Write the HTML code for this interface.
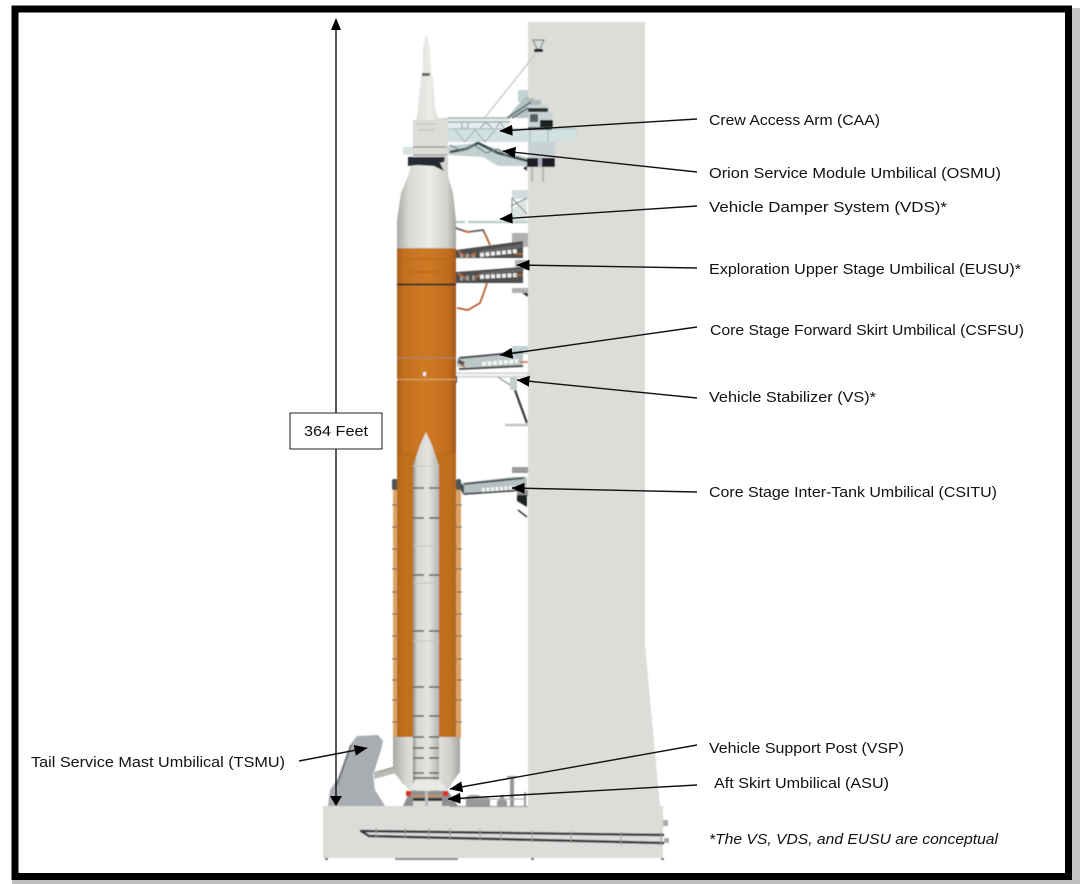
<!DOCTYPE html>
<html><head><meta charset="utf-8"><style>
html,body{margin:0;padding:0;background:#fff;width:1080px;height:884px;overflow:hidden}
svg{display:block}
text{font-family:"Liberation Sans",sans-serif;font-size:15px;fill:#111}
</style></head><body>
<svg width="1080" height="884" viewBox="0 0 1080 884" xmlns="http://www.w3.org/2000/svg">
<defs>
<linearGradient id="or" x1="0" x2="1" y1="0" y2="0"><stop offset="0" stop-color="#a85f1c"/><stop offset=".12" stop-color="#c4701f"/><stop offset=".5" stop-color="#cf7a22"/><stop offset=".88" stop-color="#c06c1f"/><stop offset="1" stop-color="#a05a1c"/></linearGradient>
<linearGradient id="wh" x1="0" x2="1" y1="0" y2="0"><stop offset="0" stop-color="#a9a9a5"/><stop offset=".2" stop-color="#d8d8d4"/><stop offset=".55" stop-color="#ebebe8"/><stop offset=".85" stop-color="#d0d0cc"/><stop offset="1" stop-color="#a5a5a1"/></linearGradient>
<linearGradient id="bs" x1="0" x2="1" y1="0" y2="0"><stop offset="0" stop-color="#8f8f8b"/><stop offset=".15" stop-color="#d5d5d1"/><stop offset=".6" stop-color="#e4e4e0"/><stop offset="1" stop-color="#b5b5b1"/></linearGradient>
<filter id="b" x="-5%" y="-5%" width="110%" height="110%"><feGaussianBlur stdDeviation="0.6"/></filter>
<marker id="ah" viewBox="0 0 13 11" refX="12.500" refY="5.500" markerWidth="13" markerHeight="11" markerUnits="userSpaceOnUse" orient="auto"><path d="M13 5.500L0 0V11Z" fill="#000"/></marker>
</defs>
<rect width="1080" height="884" fill="#fff"/>
<rect x="1072" y="8" width="8" height="876" fill="#c4c4c4"/>
<rect x="12" y="880" width="1068" height="4" fill="#bdbdbd"/>
<g filter="url(#b)">
<!-- tower -->
<path d="M528 22H645V645L660 806H663V858H323V806H528Z" fill="#dcdcd8"/>
<!-- base details -->
<path d="M360 831L664 835" stroke="#33383a" stroke-width="2.400" fill="none"/>
<path d="M361 831L369 836L664 843" stroke="#33383a" stroke-width="2.400" fill="none"/>
<path d="M376 828v10M405 828v11M429 828v12M450 828v12M480 829v12M501 830v11M532 830v12M571 831v12M621 832v13M661 832v14" stroke="#9a9a96" stroke-width="1"/>
<rect x="395" y="858" width="63" height="2" fill="#8c8c8a"/>
<path d="M325 859h3M531 859h3M661 859h3" stroke="#777" stroke-width="2"/>
<path d="M663 820h5v6h-5zM664 838h5v5h-5z" fill="#aaa"/>
<!-- top antenna -->
<path d="M533 40h11l-4 9h-3z" fill="none" stroke="#7a8a88" stroke-width="1.200"/>
<rect x="534" y="49" width="9" height="3" fill="#222"/>
<path d="M537 52L475 130" stroke="#bfc5c4" stroke-width="1.200"/>
<!-- CAA structure -->
<path d="M518 90h10v12h-10z" fill="#c3d2d2"/>
<path d="M507 118l10-12 11-12v24z" fill="#b4c3c3"/>
<path d="M528 98h6v8h-6zM533 100h8v8h-8z" fill="#aebaba"/>
<path d="M528 105h21v8h-21z" fill="#ccd5d5"/>
<path d="M528 108h20v4h-20z" fill="#2c3032"/>
<path d="M507 118l24-16M512 118l16-10" stroke="#55686a" stroke-width="1.500"/>
<path d="M528 113h24v14h-24z" fill="#c8d3d3"/>
<path d="M540 120h13v7h-13z" fill="#1e2224"/>
<path d="M530 114h8v8h-8z" fill="#58615f"/>
<path d="M448 118h62v12h-62z" fill="#e4ecec"/>
<path d="M448 118h62M448 122h62" stroke="#93a6a6" stroke-width="1.200"/>
<path d="M462 128h6v-6h-6zM480 128l6-6 6 6M496 128l4-6 4 6" stroke="#8da0a0" fill="none"/>
<path d="M448 128h129v14h-129z" fill="#d2e0e0"/>
<path d="M448 129h129" stroke="#a6b8b8" stroke-width="1"/>
<path d="M455 130l10 12 10-12 10 12 10-12M530 128v14M548 128v14" stroke="#9fb2b2" stroke-width="1" fill="none"/>
<path d="M528 127h24v3h-24z" fill="#4a5a5c"/>
<!-- OSMU -->
<path d="M403 147h44v8h-44z" fill="#d8e2e2"/>
<path d="M447 146l30-3 15 4 20 6 16 5v8h-30l-15-9-36-2z" fill="#c2d0d0"/>
<path d="M450 152l16-3 12-6 20 10 30 8" stroke="#39494b" stroke-width="2.600" fill="none"/>
<path d="M450 145l12 6 12-6 12 8 12-4 10 8" stroke="#6f8284" stroke-width="1.200" fill="none"/>
<path d="M528 142h27v16h-27z" fill="#c7d2d2"/>
<rect x="527" y="158" width="28" height="9" fill="#1a1f22"/>
<rect x="538" y="158" width="4" height="9" fill="#aab"/>
<path d="M532 167v15M543 167v15" stroke="#b3b8b6" stroke-width="2"/>
<path d="M523 168l4 3v-5z" fill="#333"/>
<!-- VDS -->
<path d="M447 222h18M468 222h60" stroke="#bdcdcd" stroke-width="2.400"/>
<path d="M447 221l6 3" stroke="#333" stroke-width="3"/>
<path d="M512 190h16v9h-16z" fill="#d2dcdc"/>
<path d="M512 209l15-12v24h-15z" fill="#dde4e4"/>
<path d="M511 206l16-8M512 198l15 16M512 198v24" stroke="#7c8a8a" stroke-width="1" fill="none"/>
<path d="M450 224l8 5 10 3 15-2 4 8 3 7" stroke="#5d5f5d" stroke-width="1.800" fill="none"/>
<path d="M463 231l7 1M484 232l6 13" stroke="#c76a35" stroke-width="1.800" fill="none"/>
<!-- EUSU arms -->
<path d="M512 233h16v14h-16zM515 260h13v10h-13zM512 288h16v5h-16z" fill="#b0b2b0"/>
<path d="M456 250L523 241V258H456Z" fill="#4b4f50"/>
<path d="M456 272L523 267V283H456Z" fill="#4b4f50"/>
<path d="M480 252l42-6M480 274l42-4" stroke="#666" stroke-width="3"/>
<path d="M480 255l38-4M480 277l38-2" stroke="#f0f0ee" stroke-width="4" stroke-dasharray="4 1.500"/>
<path d="M460 256h16M460 278h16" stroke="#9a9c9a" stroke-width="5" stroke-dasharray="3 3"/>
<path d="M458 251l8 6M470 256l6-3M458 273l8 6M474 278l6-3M515 254h8M515 275h8" stroke="#c46a35" stroke-width="1.600" fill="none"/>
<path d="M522 293l6 4v-4z" fill="#222"/>
<path d="M487 283l-4 12-3 8-12 7-11-2" stroke="#b75f31" stroke-width="1.800" fill="none"/>
<!-- CSFSU -->
<path d="M512 346h16v8h-16z" fill="#c0d2d2"/>
<path d="M457 358L523 353V367H457V370Z" fill="#bcc8c8"/>
<path d="M459 358l64-6M459 369l64-3" stroke="#4b5052" stroke-width="2" fill="none"/>
<path d="M482 364l36-3" stroke="#f6f6f4" stroke-width="4" stroke-dasharray="4 1.500"/>
<path d="M458 361l6 3" stroke="#555" stroke-width="4"/>
<path d="M520 362h8M461 365l4 2" stroke="#c46a35" stroke-width="1.600"/>
<!-- VS -->
<path d="M443 373h85v4h-85z" fill="#eef1f1" stroke="#aab4b4" stroke-width=".8"/>
<path d="M443 374l14 2v7l-6-4z" fill="#2c3133"/>
<path d="M498 377l12 8" stroke="#9ea6a6" stroke-width="1.500"/>
<path d="M515 390l5 14 7 19" stroke="#30373a" stroke-width="2.200" fill="none"/>
<rect x="510" y="377" width="7" height="13" fill="#c6cdcd"/>
<path d="M505 425h23" stroke="#c0c4c2" stroke-width="2.500"/>
<!-- CSITU -->
<path d="M512 467h16v6h-16z" fill="#9c9e9c"/>
<path d="M462 483L512 477H527V490L462 495Z" fill="#b5c0c0"/>
<path d="M464 484l60-6M464 494l60-4" stroke="#44484a" stroke-width="1.800" fill="none"/>
<path d="M482 490l34-2.500" stroke="#f2f2f2" stroke-width="4" stroke-dasharray="3 1.500"/>
<path d="M458 480l6 6v8l-6-6z" fill="#41484a"/>
<path d="M517 490h11v6h-11z" fill="#8d918f"/>
<path d="M517 495h10v12l-10-6z" fill="#1c2022"/>
<path d="M518 510l9 7" stroke="#30383a" stroke-width="1.500"/>
<!-- SRB strips -->
<rect x="393" y="489" width="5" height="249" fill="#dca367"/>
<rect x="456" y="489" width="5" height="249" fill="#dca367"/>
<rect x="392" y="479" width="6" height="11" rx="2" fill="#4f5658"/>
<rect x="456" y="479" width="5" height="11" rx="2" fill="#4f5658"/>
<path d="M392 505h6M392 527h6M392 549h6M392 569h6M392 592h6M392 614h6M392 636h6M392 659h6M392 680h6M392 700h6M392 722h6M456 505h6M456 527h6M456 549h6M456 569h6M456 592h6M456 614h6M456 636h6M456 659h6M456 680h6M456 700h6M456 722h6" stroke="#6e6558" stroke-width="1"/>
<!-- Core orange -->
<rect x="397" y="248" width="59" height="490" fill="url(#or)"/>
<rect x="397" y="454" width="59" height="284" fill="#bd6f1f" opacity=".6"/>
<path d="M397 284.500H456" stroke="#1f2a30" stroke-width="1.800"/>
<path d="M397 358h59" stroke="#9c8d7a" stroke-width="1.200" stroke-dasharray="2 1"/>
<path d="M397 379.500h59" stroke="#dcae7a" stroke-width="1.400" stroke-dasharray="2 1"/>
<path d="M397 259h59M397 272h59M397 454h59" stroke="#b4681e" stroke-width="1"/>
<rect x="423" y="372" width="3" height="4" fill="#eee"/>
<path d="M397 248H456" stroke="#b8a88f" stroke-width="1"/>
<!-- White upper stage -->
<path d="M426 34Q429 40 430 50L431 70L433 78L435 108L438 118H448V157L448 176L453 193L456 220V248H397V220L401 193L408 176L413 157V127L417 118L418 108L421 78L423 70L423 50Q424 40 426 34Z" fill="url(#wh)"/>
<path d="M413 120h35v38h-35z" fill="#dddcd8"/>
<path d="M422 73h8v3h-8z" fill="#666"/>
<path d="M408 157h37l-1 5 -4 1 4 8-10-5-16-1-10 1z" fill="#252c30"/>
<path d="M413 147h34M413 155h34" stroke="#6e7a7a" stroke-width="1"/>
<path d="M416 124h20M418 130h16" stroke="#bbb" stroke-width="1"/>
<!-- Lower white section -->
<path d="M393 737H460V772L457 776L452 783L448 790L450 806H403L410 790L402 783L397 776L393 772Z" fill="url(#wh)"/>
<!-- Booster -->
<path d="M426 432L432 445L439 466V793H413V466L420 445Z" fill="url(#bs)"/>
<path d="M413 466H439" stroke="#c8c8c4" stroke-width="1"/>
<path d="M413 488h11M429 488h10M413 518h11M429 518h10M413 575h11M429 575h10M413 631h11M429 631h10M413 687h11M429 687h10M413 716h11M429 716h10M413 737h11M429 737h10M413 748h11M429 748h10M413 758h11M429 758h10M413 773h11M429 773h10M413 778h26" stroke="#60605e" stroke-width="1.500"/>
<path d="M413 546h26M413 583h26M413 641h26" stroke="#c4c4c0" stroke-width="1"/>
<path d="M410 790l5-10h24l9 10z" fill="#e8e8e4"/>
<path d="M403 806l7-15h38l10 15z" fill="#8d9090"/>
<path d="M412 795h30v2h-30z" fill="#c88f63"/>
<path d="M413 798h29v8h-29z" fill="#dcdcd8"/>
<path d="M413 798h29v3h-29z" fill="#33383a"/>
<path d="M425 791h3v15h-3z" fill="#bbb"/>
<rect x="406" y="791" width="5" height="5" fill="#d6301f"/>
<rect x="443" y="791" width="5" height="5" fill="#d6301f"/>
<!-- TSMU -->
<path d="M328 806L330 790L338 778L350 745L357 736L378 735L383 741L381 750L373 775L375 790L385 806Z" fill="#a9acb0"/>
<path d="M337 785L351 745" stroke="#70757a" stroke-width="1.800" fill="none"/>
<path d="M374 772l22-6 0 7-22 6z" fill="#b8b8b4"/>
<path d="M378 772l17-5" stroke="#777" stroke-width="1" stroke-dasharray="2 1"/>
<!-- equipment on deck -->
<path d="M466 806v-9l4-2h8l3 2h6l3 2v7h-24zM497 806v-5l3-2v-4h4v4l3 2v5zM510 806V778h-3v-2h10v2h-3v28zM524 806v-14h2v14z" fill="#96989a"/>
<path d="M451 799h73" stroke="#aaa" stroke-width="1"/>
<path d="M450 806h78v1h-78z" fill="#999"/>
</g>
<!-- arrows -->
<g stroke="#111" stroke-width="1.400" fill="none">
<path d="M336 30V796"/>
<path d="M697 119L500 131" marker-end="url(#ah)"/>
<path d="M697 172L503 151" marker-end="url(#ah)"/>
<path d="M697 206L500 219" marker-end="url(#ah)"/>
<path d="M697 268L517 265" marker-end="url(#ah)"/>
<path d="M697 327L500 355" marker-end="url(#ah)"/>
<path d="M697 398L517 380" marker-end="url(#ah)"/>
<path d="M697 492L512 488" marker-end="url(#ah)"/>
<path d="M697 745L450 789" marker-end="url(#ah)"/>
<path d="M697 785L448 799" marker-end="url(#ah)"/>
<path d="M299 761L367 748" marker-end="url(#ah)"/>
</g>
<path d="M336 18L331 30H341Z" fill="#000"/>
<path d="M336 806L330 796H342Z" fill="#000"/>
<rect x="290" y="413" width="92" height="36" fill="#fff" stroke="#222" stroke-width="1"/>
<text x="304" y="436" textLength="64" lengthAdjust="spacingAndGlyphs">364 Feet</text>
<text x="709" y="125" textLength="171" lengthAdjust="spacingAndGlyphs">Crew Access Arm (CAA)</text>
<text x="709" y="178" textLength="292" lengthAdjust="spacingAndGlyphs">Orion Service Module Umbilical (OSMU)</text>
<text x="709" y="212" textLength="238" lengthAdjust="spacingAndGlyphs">Vehicle Damper System (VDS)*</text>
<text x="709" y="274" textLength="312" lengthAdjust="spacingAndGlyphs">Exploration Upper Stage Umbilical (EUSU)*</text>
<text x="710" y="335" textLength="314" lengthAdjust="spacingAndGlyphs">Core Stage Forward Skirt Umbilical (CSFSU)</text>
<text x="709" y="402" textLength="167" lengthAdjust="spacingAndGlyphs">Vehicle Stabilizer (VS)*</text>
<text x="709" y="497" textLength="288" lengthAdjust="spacingAndGlyphs">Core Stage Inter-Tank Umbilical (CSITU)</text>
<text x="709" y="753" textLength="195" lengthAdjust="spacingAndGlyphs">Vehicle Support Post (VSP)</text>
<text x="714" y="788" textLength="175" lengthAdjust="spacingAndGlyphs">Aft Skirt Umbilical (ASU)</text>
<text x="31" y="767" textLength="254" lengthAdjust="spacingAndGlyphs">Tail Service Mast Umbilical (TSMU)</text>
<text x="709" y="844" textLength="289" lengthAdjust="spacingAndGlyphs" font-style="italic">*The VS, VDS, and EUSU are conceptual</text>
<!-- frame -->
<rect x="15" y="9" width="1053.500" height="867.500" fill="none" stroke="#000" stroke-width="7"/>
</svg>
</body></html>
